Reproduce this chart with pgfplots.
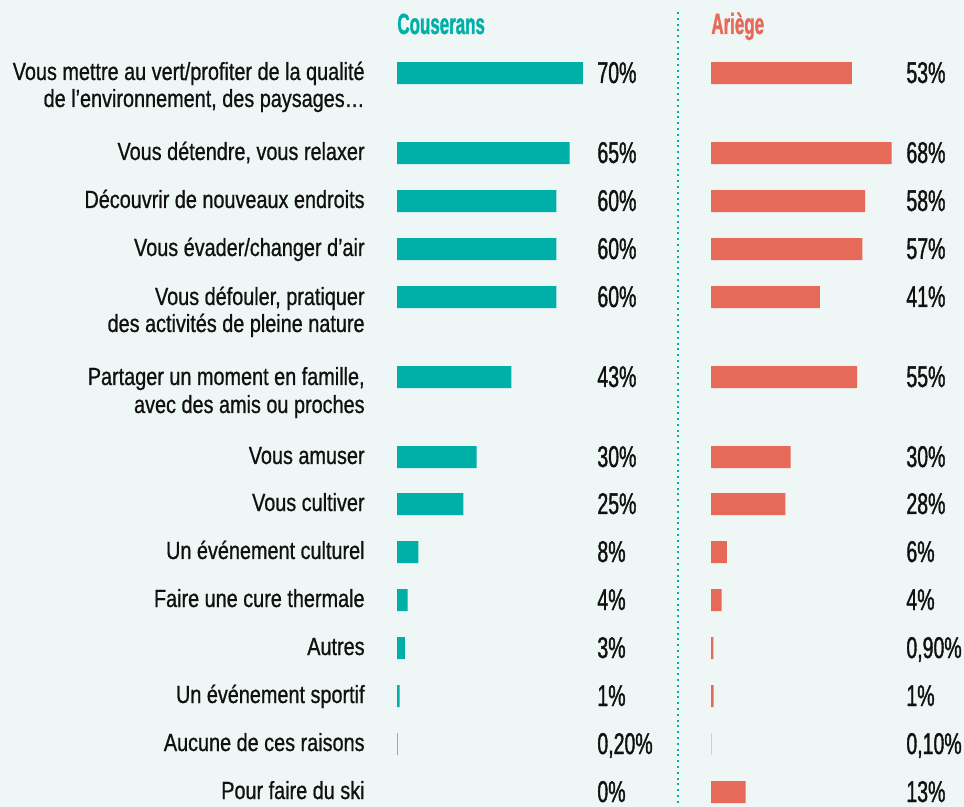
\documentclass[border=0pt]{standalone}
\usepackage{fontspec}
\usepackage{pgfplots}
\usepackage{pgfplotstable}
\pgfplotsset{compat=1.18}
\setmainfont{Liberation Sans}
\newfontfamily\labfont[FakeStretch=0.80, FakeBold=0.8]{Liberation Sans}
\newfontfamily\valfont[FakeStretch=0.65, FakeBold=1.2]{Liberation Sans}
\newfontfamily\headfont[FakeStretch=0.58, FakeBold=1.2]{Liberation Sans}
\definecolor{bg}{HTML}{EFF7F6}
\definecolor{cous}{HTML}{00B0A8}
\definecolor{arie}{HTML}{E76A58}
\definecolor{ink}{HTML}{111111}

% row centre (pixels from top), Couserans %, Ariege %
\pgfplotstableread{
y    c    a
73   70   53
153  65   68
201  60   58
249  60   57
297  60   41
377  43   55
457  30   30
504  25   28
552  8    6
600  4    4
648  3    0.9
696  1    1
744  0.2  0.1
792  0    13
}\reasons

\pgfplotsset{
  panel/.style={
    scale only axis, width=132.85pt, height=403.5pt,
    xmin=0, xmax=100, ymin=0, ymax=807, y dir=reverse,
    hide axis, clip=false, anchor=north west,
    xbar, bar width=22,
  },
}

\begin{document}
\begin{tikzpicture}
\fill[bg] (0,0) rectangle (482pt,-403.5pt);
\path[use as bounding box] (0,0) rectangle (482pt,-403.5pt);

\draw[cous, line width=1pt, dash pattern=on 1pt off 1.9pt] (338.85pt,-6pt) -- (338.85pt,-403.5pt);

\begin{axis}[panel, at={(198.5pt,0pt)}]
\addplot[fill=cous, draw=none, x filter/.expression={x==0 ? nan : x}] table[x=c, y=y] {\reasons};
\end{axis}

\begin{axis}[panel, at={(355.5pt,0pt)}]
\addplot[fill=arie, draw=none] table[x=a, y=y] {\reasons};
\end{axis}

\begin{scope}[x=0.5pt, y=-0.5pt]
\node[anchor=base west, inner sep=0, text=cous, font=\headfont\bfseries\fontsize{14.6}{17}\selectfont] at (397,34) {Couserans};
\node[anchor=base west, inner sep=0, text=arie, font=\headfont\bfseries\fontsize{14.6}{17}\selectfont] at (711,34) {Ariège};

\foreach \yy/\t in {
  80/{Vous mettre au vert/profiter de la qualité},
  107/{de l’environnement, des paysages…},
  160/{Vous détendre, vous relaxer},
  208/{Découvrir de nouveaux endroits},
  256/{Vous évader/changer d’air},
  305/{Vous défouler, pratiquer},
  332/{des activités de pleine nature},
  385/{Partager un moment en famille,},
  413/{avec des amis ou proches},
  464/{Vous amuser},
  511/{Vous cultiver},
  559/{Un événement culturel},
  607/{Faire une cure thermale},
  655/{Autres},
  703/{Un événement sportif},
  751/{Aucune de ces raisons},
  799/{Pour faire du ski}}
  \node[anchor=base east, inner sep=0, text=ink, font=\labfont\fontsize{12.4}{14}\selectfont] at (365,\yy) {\t};

\foreach \yy/\c/\a in {
  73/{70\%}/{53\%},
  153/{65\%}/{68\%},
  201/{60\%}/{58\%},
  249/{60\%}/{57\%},
  297/{60\%}/{41\%},
  377/{43\%}/{55\%},
  457/{30\%}/{30\%},
  504/{25\%}/{28\%},
  552/{8\%}/{6\%},
  600/{4\%}/{4\%},
  648/{3\%}/{0,90\%},
  696/{1\%}/{1\%},
  744/{0,20\%}/{0,10\%},
  792/{0\%}/{13\%}}
{
  \node[anchor=base west, inner sep=0, text=ink, font=\valfont\fontsize{15}{18}\selectfont] at (597,\yy+10) {\c};
  \node[anchor=base west, inner sep=0, text=ink, font=\valfont\fontsize{15}{18}\selectfont] at (906,\yy+10) {\a};
}
\end{scope}
\end{tikzpicture}
\end{document}
